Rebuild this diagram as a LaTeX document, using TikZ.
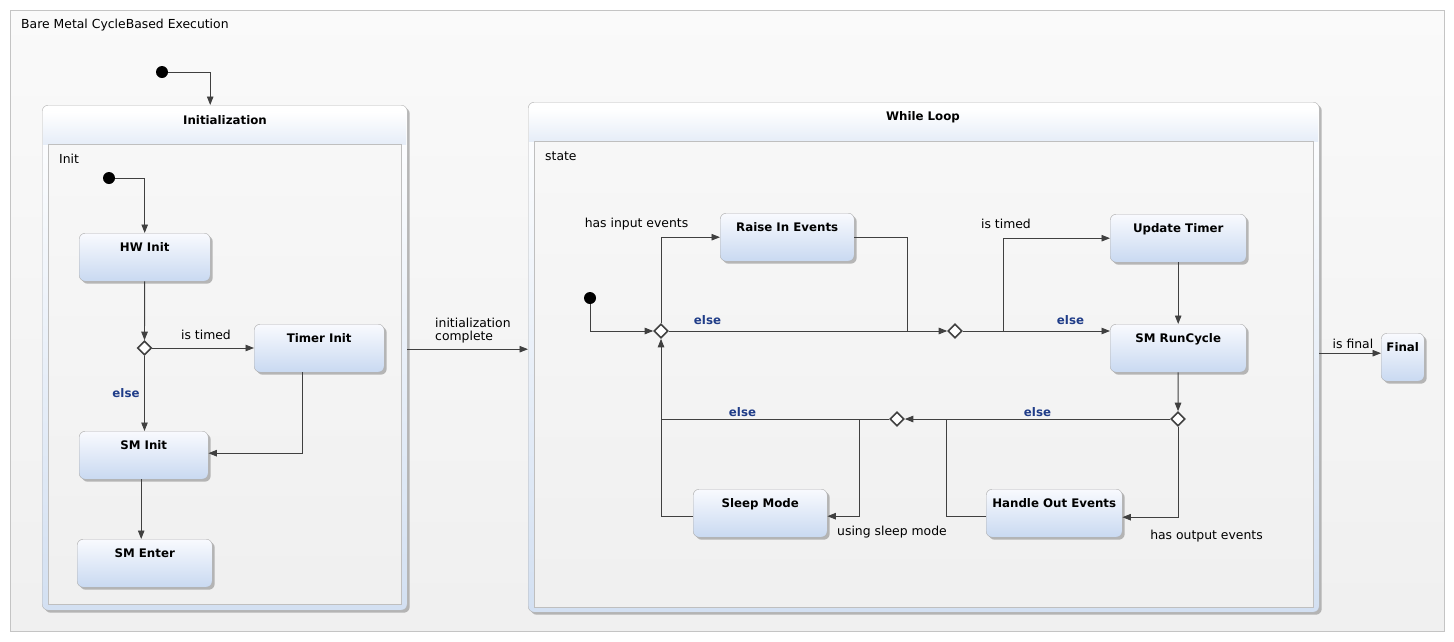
\documentclass[tikz,border=0pt]{standalone}
\usepackage{fontspec}
\setmainfont{DejaVu Sans}
\usetikzlibrary{calc, arrows.meta, shapes.geometric, shadows}
\definecolor{lineclr}{HTML}{404040}
\definecolor{boxtop}{HTML}{F9FAFE}
\definecolor{boxbot}{HTML}{C9D9F1}
\definecolor{bandclr}{HTML}{D3E0F2}
\definecolor{headclr}{HTML}{E6EDF8}
\definecolor{elseclr}{HTML}{1F3C88}
\definecolor{frameclr}{HTML}{C4C4C4}
\tikzset{
  stbox/.style={draw=black!32, rounded corners=6pt, top color=boxtop, bottom color=boxbot,
    minimum height=48pt, inner xsep=0pt, inner ysep=0pt, text height=18.5pt, text depth=29.5pt,
    anchor=north west, font=\fontsize{11.8}{14}\selectfont\bfseries,
    drop shadow={shadow xshift=2.5pt, shadow yshift=-2.5pt, fill=black!45, opacity=.6}},
  composite/.style={draw=black!30, rounded corners=6pt, top color=white, bottom color=bandclr,
    anchor=north west, inner sep=0pt,
    drop shadow={shadow xshift=2.5pt, shadow yshift=-2.5pt, fill=black!45, opacity=.6}},
  headshade/.style={top color=white, bottom color=headclr},
  region/.style={draw=black!25, top color=black!3, bottom color=black!6, anchor=north west, inner sep=0pt},
  choice/.style={diamond, draw=lineclr, line width=1.6pt, fill=white, minimum size=14pt, inner sep=0pt},
  initdot/.style={circle, fill=black, minimum size=12pt, inner sep=0pt},
  link/.style={draw=lineclr, line width=0.9pt},
  trans/.style={link, -{Triangle[length=8.5pt,width=6.5pt]}},
  evt/.style={font=\fontsize{12.4}{14}\selectfont, inner sep=0pt, yshift=-1.2pt},
  guard/.style={font=\fontsize{11.8}{14}\selectfont\bfseries, text=elseclr, inner sep=0pt, yshift=-1.2pt},
  heading/.style={font=\fontsize{11.8}{14}\selectfont\bfseries, inner sep=0pt, yshift=-1.2pt}
}

\begin{document}
\begin{tikzpicture}[x=1pt, y=-1pt]
\useasboundingbox (0,0) rectangle (1454,641);
\fill[white] (0,0) rectangle (1454,641);
\draw[frameclr, top color=black!2, bottom color=black!6] (10,10) rectangle (1444,631);
\node[evt, anchor=west] (diagtitle) at (21,24) {Bare Metal CycleBased Execution};

% composite states
\node[composite, minimum width=365pt, minimum height=505pt] (initialization) at (42,105) {};
\shade[headshade] (43,112) rectangle (406,144);
\node[heading] (initializationtitle) at (225,119) {Initialization};
\node[region, minimum width=353pt, minimum height=460pt] (initregion) at (48,144) {};
\node[evt, anchor=west] (initlabel) at (59,158) {Init};

\node[composite, minimum width=791pt, minimum height=510pt] (whileloop) at (528,102) {};
\shade[headshade] (529,109) rectangle (1318,141);
\node[heading] (whilelooptitle) at (923,116) {While Loop};
\node[region, minimum width=779pt, minimum height=466pt] (loopregion) at (534,141) {};
\node[evt, anchor=west] (looplabel) at (545,155) {state};

% simple states
\node[stbox, minimum width=131pt] (hwinit) at (79,233) {HW Init};
\node[stbox, minimum width=130pt] (timerinit) at (254,324) {Timer Init};
\node[stbox, minimum width=129pt] (sminit) at (79,431) {SM Init};
\node[stbox, minimum width=135pt] (smenter) at (77,539) {SM Enter};
\node[stbox, minimum width=134pt] (raise) at (720,213) {Raise In Events};
\node[stbox, minimum width=136pt] (updtimer) at (1110,214) {Update Timer};
\node[stbox, minimum width=136pt] (runcycle) at (1110,324) {SM RunCycle};
\node[stbox, minimum width=134pt] (sleep) at (693,489) {Sleep Mode};
\node[stbox, minimum width=136pt] (handleout) at (986,489) {Handle Out Events};
\node[stbox, minimum width=43pt] (final) at (1381,333) {Final};

% pseudo states
\node[initdot] (startmain) at (162,72) {};
\node[initdot] (startinit) at (109,178) {};
\node[initdot] (startloop) at (590,298) {};
\foreach \n/\x/\y in {d0/144.5/348, d1/661/331, d2/955/331, d3/1178/419, d4/897/419}
  \node[choice] (\n) at (\x,\y) {};
\coordinate (j1) at (907,331);
\coordinate (j2) at (1003,331);
\coordinate (j3) at (946,419);
\coordinate (j4) at (859,419);
\coordinate (j5) at (661,419);

% transitions
\draw[trans] (startmain) -| ([xshift=-14.5pt]initialization.north);
\draw[trans] (startinit) -| (hwinit);
\draw[trans] (hwinit) -- (d0);
\draw[trans] (d0) -- (d0 -| timerinit.west);
\draw[trans] (d0) -- (d0 |- sminit.north);
\draw[trans] ([xshift=-17pt]timerinit.south) |- ([yshift=2pt]sminit.east);
\draw[trans] ([xshift=-2.5pt]sminit.south) -- ([xshift=-2.5pt]sminit.south |- smenter.north);
\draw[trans] ([yshift=8.5pt]initialization.east) -- ([yshift=8.5pt]initialization.east -| whileloop.west);

\draw[trans] (startloop) |- (d1);
\draw[trans] (d1) |- (raise);
\draw[link] (raise) -| (j1);
\draw[trans] (d1) -- (d2);
\draw[trans] (d2) -- (d2 -| runcycle.west);
\draw[trans] (j2) |- (updtimer);
\draw[trans] (updtimer) -- (runcycle);
\draw[trans] (runcycle) -- (d3);
\draw[trans] (d3) -- (d4);
\draw[trans] (d3) |- ([yshift=-4pt]handleout.east);
\draw[link] ([yshift=-3pt]handleout.west) -| (j3);
\draw[trans] (d4) -| (d1);
\draw[trans] (j4) |- ([yshift=-3pt]sleep.east);
\draw[link] ([yshift=-3pt]sleep.west) -| (j5);
\draw[trans] ([yshift=4pt]final.west -| whileloop.east) -- ([yshift=4pt]final.west);

% labels
\node[evt] (lbltimed) at (206,334) {is timed};
\node[evt, anchor=west, align=left] (lblcomplete) at (435,329.5) {initialization\\[-1pt]complete};
\node[evt] (lblinput) at (636.5,222.5) {has input events};
\node[evt] (lbltimedloop) at (1006,223) {is timed};
\node[evt] (lblsleep) at (892,530.5) {using sleep mode};
\node[evt] (lbloutput) at (1206.5,535) {has output events};
\node[evt] (lblfinal) at (1353,342.5) {is final};
\foreach \n/\x/\y in {else0/126/391.5, else1/707.5/318.5, else2/1070.5/318.5, else3/1037.5/410.5, else4/742.5/410.5}
  \node[guard] (\n) at (\x,\y) {else};
\end{tikzpicture}
\end{document}
